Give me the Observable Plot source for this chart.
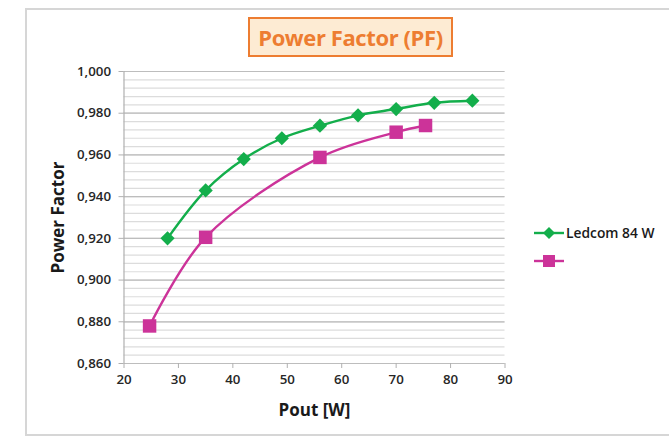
<!DOCTYPE html>
<html>
<head>
<meta charset="utf-8">
<script src="https://cdn.jsdelivr.net/npm/d3@7"></script>
<script src="https://cdn.jsdelivr.net/npm/@observablehq/plot@0.6"></script>
<style>
  html, body { margin: 0; padding: 0; background: #fff; }
  #wrap { position: relative; width: 669px; height: 439px; overflow: hidden; font-family: "Open Sans", sans-serif; }
  #frame { position: absolute; left: 25px; top: 8px; width: 720px; height: 428px; border: 2px solid #d6d6d6; box-sizing: border-box; }
  #chart { position: absolute; left: 0; top: 0; }
  #title { position: absolute; left: 248px; top: 17px; width: 205px; height: 40px; box-sizing: border-box;
           background: #fdebd3; border: 2.5px solid #ed7d31; color: #ed7d31; font-weight: 700; font-size: 22px;
           display: flex; align-items: center; justify-content: center; letter-spacing: -0.4px; white-space: nowrap; }
  #legend { position: absolute; left: 530px; top: 220px; }
</style>
</head>
<body>
<div id="wrap">
  <div id="frame"></div>
  <div id="chart"></div>
  <div id="title">Power Factor (PF)</div>
  <div id="legend"></div>
</div>
<script>
// ---- data ----
const seriesNames = ["Ledcom 84 W", ""];
const seriesColors = ["#13ae4b", "#cc3399"];
const ledcomPout = [28, 35, 42, 49, 56, 63, 70, 77, 84];
const ledcomPF   = [0.920, 0.943, 0.958, 0.968, 0.974, 0.979, 0.982, 0.985, 0.986];
const otherPout  = [24.7, 35, 56, 70, 75.4];
const otherPF    = [0.878, 0.9205, 0.9588, 0.9709, 0.9741];
const xTicks = [20, 30, 40, 50, 60, 70, 80, 90];
const yTicks = [0.86, 0.88, 0.90, 0.92, 0.94, 0.96, 0.98, 1.00];
const yMinorTicks = d3.range(0, 36).map(i => 0.86 + i * 0.004);

const ledcom = ledcomPout.map((x, i) => ({x, y: ledcomPF[i]}));
const other = otherPout.map((x, i) => ({x, y: otherPF[i]}));

const fmt = d => d.toFixed(3).replace(".", ",");

const plot = Plot.plot({
  width: 669,
  height: 439,
  marginLeft: 123.5,
  marginRight: 164.5,
  marginTop: 71,
  marginBottom: 76,
  style: { fontFamily: "Open Sans, sans-serif", fontSize: "13.3px", fontWeight: 600, color: "#262626", background: "transparent" },
  x: { domain: [20, 90] },
  y: { domain: [0.86, 1.0] },
  marks: [
    Plot.ruleY(yMinorTicks, { stroke: "#dcdcdc", strokeWidth: 1.2 }),
    Plot.ruleY(yTicks, { stroke: "#bdbdbd", strokeWidth: 1.2 }),
    Plot.ruleX([20], { stroke: "#b0b0b0", strokeWidth: 1.2 }),
    Plot.axisY({ ticks: yTicks, tickFormat: fmt, tickSize: 5, tickPadding: 8, stroke: "#b0b0b0", fill: "#262626", label: null }),
    Plot.axisX({ ticks: xTicks, tickFormat: d => d, tickSize: 5, tickPadding: 6, stroke: "#b0b0b0", fill: "#262626", label: null }),
    Plot.text(["Pout [W]"], { frameAnchor: "bottom", dy: 47, textAnchor: "middle", lineAnchor: "middle", fontSize: 17, fontWeight: 700, fill: "#1a1a1a" }),
    Plot.text(["Power Factor"], { frameAnchor: "left", dx: -65.5, rotate: -90, textAnchor: "middle", lineAnchor: "middle", fontSize: 17, fontWeight: 700, fill: "#1a1a1a" }),
    Plot.line(other, { x: "x", y: "y", curve: "catmull-rom", stroke: seriesColors[1], strokeWidth: 2.4 }),
    Plot.dot(other, { x: "x", y: "y", symbol: "square", r: 7.6, fill: seriesColors[1], stroke: "none" }),
    Plot.line(ledcom, { x: "x", y: "y", curve: "catmull-rom", stroke: seriesColors[0], strokeWidth: 2.4 }),
    Plot.dot(ledcom, { x: "x", y: "y", symbol: "diamond2", r: 6.4, fill: seriesColors[0], stroke: "none" })
  ]
});
document.getElementById("chart").append(plot);

// legend
const lg = d3.select("#legend").append("svg").attr("width", 139).attr("height", 60)
  .style("font-family", "Open Sans, sans-serif");
seriesNames.forEach((name, i) => {
  const y = 13 + i * 28;
  const g = lg.append("g");
  g.append("line").attr("x1", 4).attr("x2", 34).attr("y1", y).attr("y2", y)
    .attr("stroke", seriesColors[i]).attr("stroke-width", 2.4);
  if (i === 0) {
    g.append("path").attr("d", `M19,${y-6}L25,${y}L19,${y+6}L13,${y}Z`).attr("fill", seriesColors[i]);
  } else {
    g.append("rect").attr("x", 13).attr("y", y - 6).attr("width", 12).attr("height", 12).attr("fill", seriesColors[i]);
  }
  g.append("text").attr("x", 36).attr("y", y).attr("dy", "0.35em")
    .attr("font-size", 13.8).attr("font-weight", 600).attr("fill", "#1a1a1a").text(name);
});
</script>
</body>
</html>
